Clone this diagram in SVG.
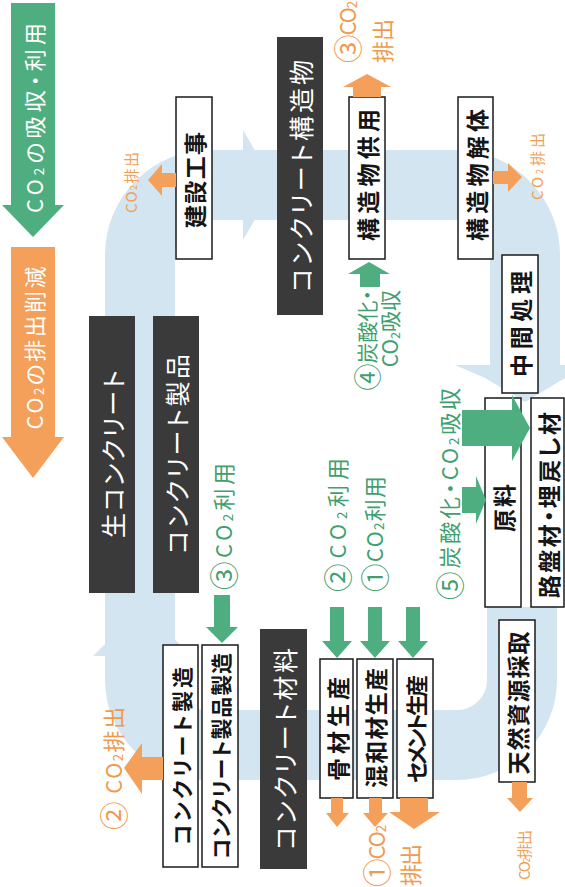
<svg xmlns="http://www.w3.org/2000/svg" width="565" height="887" viewBox="0 0 565 887">
<style>
.box{fill:#fff;stroke:#1a1a1a;stroke-width:1.5}
.dark{fill:#3a3a3a}
.band{fill:none;stroke:#d3e5f1;stroke-width:70}
.bandh{fill:#d3e5f1}
.g{fill:#4fae7f}
.o{fill:#f4a05a}
text{font-family:"Noto Sans CJK JP","Noto Sans CJK SC",sans-serif;dominant-baseline:central;font-feature-settings:"palt"}
.m{text-anchor:middle}
.s{text-anchor:start}
.e{text-anchor:end}
.bk{fill:#151515;font-size:23px;font-weight:600}
.wh{fill:#fff;font-size:25px}
.gt{fill:#3f9f6e;font-size:22px}
.ot{fill:#f09a4e;font-size:22px}
.sm{fill:#f0a055;font-size:15px}
.ar{fill:#fff;font-size:22px}
.sub{font-size:0.6em}
.num{font-size:1.3em}
</style>

<g id="background-cycle">
  <path class="band" d="M522 607 L522 680 A65 65 0 0 1 457 745 L205 745 A65 65 0 0 1 140 680 L140 255 A70 70 0 0 1 210 185 L455 185 A70 70 0 0 1 525 255 L525 368"/>
  <polygon class="bandh" points="93,656 192,656 142,608"/>
  <polygon class="bandh" points="243,130 243,240 275,185"/>
  <polygon class="bandh" points="455,365 565,365 565,378 525,402 485,378"/>
</g>

<g id="legend">
  <g id="legend-absorb">
    <polygon class="g" points="11,3 55,3 55,205 64,205 33,237 2,205 11,205"/>
    <text class="ar m" x="33" y="118" transform="rotate(-90 33 118)" textLength="190" lengthAdjust="spacing">CO<tspan class="sub" dy="5">2</tspan><tspan dy="-5">の吸収・利用</tspan></text>
  </g>
  <g id="legend-reduce">
    <polygon class="o" points="11,247 55,247 55,437 64,437 33,478 2,437 11,437"/>
    <text class="ar m" x="33" y="348" transform="rotate(-90 33 348)" textLength="163" lengthAdjust="spacing">CO<tspan class="sub" dy="5">2</tspan><tspan dy="-5">の排出削減</tspan></text>
  </g>
</g>

<g id="node-kensetsu">
  <rect class="box" x="176" y="97" width="36" height="162"/>
  <text class="bk m" x="194" y="180" transform="rotate(-90 194 180)" textLength="96" lengthAdjust="spacing">建設工事</text>
</g>
<g id="node-kozobutsu">
  <rect class="dark" x="277" y="37" width="46" height="278"/>
  <text class="wh m" x="300" y="176" transform="rotate(-90 300 176)" textLength="232" lengthAdjust="spacing">コンクリート構造物</text>
</g>
<g id="node-kyoyo">
  <rect class="box" x="349" y="97" width="36" height="162"/>
  <text class="bk m" x="367" y="175" transform="rotate(-90 367 175)" textLength="132" lengthAdjust="spacing">構造物供用</text>
</g>
<g id="node-kaitai">
  <rect class="box" x="458" y="97" width="35" height="162"/>
  <text class="bk m" x="475.5" y="175" transform="rotate(-90 475.5 175)" textLength="132" lengthAdjust="spacing">構造物解体</text>
</g>
<g id="node-chukan">
  <rect class="box" x="502" y="255" width="36" height="138"/>
  <text class="bk m" x="520" y="324" transform="rotate(-90 520 324)" textLength="106" lengthAdjust="spacing">中間処理</text>
</g>
<g id="node-genryo">
  <rect class="box" x="485" y="398" width="36" height="209"/>
  <text class="bk m" x="503" y="508" transform="rotate(-90 503 508)" textLength="48" lengthAdjust="spacing">原料</text>
</g>
<g id="node-robanzai">
  <rect class="box" x="531" y="398" width="33" height="209"/>
  <text class="bk m" x="547.5" y="505" transform="rotate(-90 547.5 505)" textLength="186" lengthAdjust="spacing">路盤材・埋戻し材</text>
</g>
<g id="node-tennen">
  <rect class="box" x="499" y="620" width="36" height="162"/>
  <text class="bk m" x="517" y="703" transform="rotate(-90 517 703)" textLength="143" lengthAdjust="spacing">天然資源採取</text>
</g>
<g id="node-nama">
  <rect class="dark" x="89" y="316" width="46" height="277"/>
  <text class="wh m" x="112" y="454" transform="rotate(-90 112 454)" textLength="168" lengthAdjust="spacing">生コンクリート</text>
</g>
<g id="node-seihin">
  <rect class="dark" x="153" y="316" width="46" height="277"/>
  <text class="wh m" x="176" y="454" transform="rotate(-90 176 454)" textLength="200" lengthAdjust="spacing">コンクリート製品</text>
</g>
<g id="node-con-seizo">
  <rect class="box" x="163" y="645" width="35" height="222"/>
  <text class="bk m" x="180.5" y="756" transform="rotate(-90 180.5 756)" style="font-size:21px" textLength="178" lengthAdjust="spacing">コンクリート製造</text>
</g>
<g id="node-seihin-seizo">
  <rect class="box" x="202" y="645" width="36" height="222"/>
  <text class="bk m" x="220" y="756" transform="rotate(-90 220 756)" style="font-size:21px" textLength="206" lengthAdjust="spacing">コンクリート製品製造</text>
</g>
<g id="node-zairyo">
  <rect class="dark" x="260" y="629" width="47" height="240"/>
  <text class="wh m" x="283.5" y="749" transform="rotate(-90 283.5 749)" textLength="202" lengthAdjust="spacing">コンクリート材料</text>
</g>
<g id="node-kotsuzai">
  <rect class="box" x="320" y="659" width="33" height="139"/>
  <text class="bk m" x="336.5" y="729" transform="rotate(-90 336.5 729)" textLength="104" lengthAdjust="spacing">骨材生産</text>
</g>
<g id="node-konwa">
  <rect class="box" x="357" y="659" width="36" height="139"/>
  <text class="bk m" x="375" y="728" transform="rotate(-90 375 728)" textLength="120" lengthAdjust="spacing">混和材生産</text>
</g>
<g id="node-cement">
  <rect class="box" x="397" y="659" width="36" height="139"/>
  <text class="bk m" x="415" y="729" transform="rotate(-90 415 729)" style="font-size:22px" textLength="108" lengthAdjust="spacing">セメント生産</text>
</g>

<g id="connectors">
  <polygon class="g" points="214,595 230,595 230,627 238,627 222,643 206,627 214,627"/>
  <polygon class="g" points="330,607 344,607 344,641 352,641 337,658 322,641 330,641"/>
  <polygon class="g" points="368,607 382,607 382,641 390,641 375,658 360,641 368,641"/>
  <polygon class="g" points="406,607 420,607 420,641 428,641 413,658 398,641 406,641"/>
  <polygon class="g" points="360,287 380,287 380,274 390,274 369,262 348,274 360,274"/>
  <polygon class="g" points="462,410 512,410 512,395 530,428 512,461 512,446 462,446"/>
  <polygon class="g" points="462,487 476,487 476,476 486,500 476,524 476,513 462,513"/>
  <polygon class="o" points="176,173 162,173 162,164 148,180 162,196 162,187 176,187"/>
  <polygon class="o" points="353,97 381,97 381,87 391,87 367,74 343,87 353,87"/>
  <polygon class="o" points="493,171 508,171 508,163 522,177 508,192 508,184 493,184"/>
  <polygon class="o" points="512,782 527,782 527,798 533,798 520,812 507,798 512,798"/>
  <polygon class="o" points="163,757 142,757 142,743 124,768 142,794 142,780 163,780"/>
  <polygon class="o" points="331,798 343,798 343,813 349,813 337,827 326,813 331,813"/>
  <polygon class="o" points="369,798 382,798 382,813 388,813 375,827 363,813 369,813"/>
  <polygon class="o" points="400,798 428,798 428,812 440,812 414,829 389,812 400,812"/>
</g>

<g id="labels">
  <text class="gt s" x="222" y="590" transform="rotate(-90 222 590)" textLength="127" lengthAdjust="spacing"><tspan class="num">③</tspan>CO<tspan class="sub" dy="5">2</tspan><tspan dy="-5">利用</tspan></text>
  <text class="gt s" x="336" y="592" transform="rotate(-90 336 592)" textLength="134" lengthAdjust="spacing"><tspan class="num">②</tspan>CO<tspan class="sub" dy="5">2</tspan><tspan dy="-5">利用</tspan></text>
  <text class="gt s" x="373" y="592" transform="rotate(-90 373 592)" textLength="116" lengthAdjust="spacing"><tspan class="num">①</tspan>CO<tspan class="sub" dy="5">2</tspan><tspan dy="-5">利用</tspan></text>
  <text class="gt e" x="366" y="290" transform="rotate(-90 366 290)" style="font-size:21px"><tspan class="num">④</tspan>炭酸化・</text>
  <text class="gt e" x="389" y="290" transform="rotate(-90 389 290)" style="font-size:21px">CO<tspan class="sub" dy="5">2</tspan><tspan dy="-5">吸収</tspan></text>
  <text class="gt s" x="448" y="600" transform="rotate(-90 448 600)" textLength="212" lengthAdjust="spacing"><tspan class="num">⑤</tspan>炭酸化・CO<tspan class="sub" dy="5">2</tspan><tspan dy="-5">吸収</tspan></text>
  <text class="ot s" x="112" y="830" transform="rotate(-90 112 830)" textLength="123" lengthAdjust="spacing"><tspan class="num">②</tspan> CO<tspan class="sub" dy="5">2</tspan><tspan dy="-5">排出</tspan></text>
  <text class="ot s" x="346" y="63" transform="rotate(-90 346 63)" textLength="62" lengthAdjust="spacing"><tspan class="num">③</tspan>CO<tspan class="sub" dy="5">2</tspan></text>
  <text class="ot s" x="381" y="63" transform="rotate(-90 381 63)" textLength="44" lengthAdjust="spacing">排出</text>
  <text class="ot s" x="375" y="887" transform="rotate(-90 375 887)" textLength="62" lengthAdjust="spacing"><tspan class="num">①</tspan>CO<tspan class="sub" dy="5">2</tspan></text>
  <text class="ot s" x="409" y="886" transform="rotate(-90 409 886)" textLength="42" lengthAdjust="spacing">排出</text>
  <text class="sm s" x="130" y="213" transform="rotate(-90 130 213)" textLength="61" lengthAdjust="spacing">CO<tspan class="sub" dy="3">2</tspan><tspan dy="-3">排出</tspan></text>
  <text class="sm s" x="536" y="200" transform="rotate(-90 536 200)" textLength="67" lengthAdjust="spacing">CO<tspan class="sub" dy="3">2</tspan><tspan dy="-3">排出</tspan></text>
  <text class="sm s" x="523" y="880" transform="rotate(-90 523 880)" textLength="50" lengthAdjust="spacing">CO<tspan class="sub" dy="3">2</tspan><tspan dy="-3">排出</tspan></text>
</g>
</svg>
